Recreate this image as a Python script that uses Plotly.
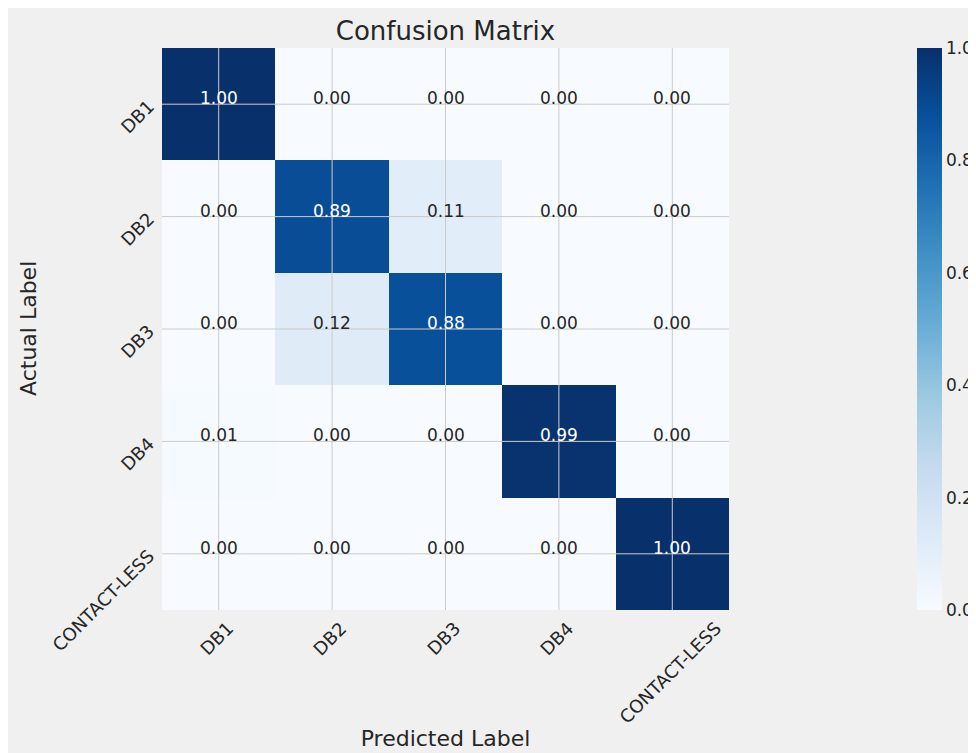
import plotly.graph_objects as go

# ---- data ----
labels = ["DB1", "DB2", "DB3", "DB4", "CONTACT-LESS"]
matrix = [
    [1.00, 0.00, 0.00, 0.00, 0.00],
    [0.00, 0.89, 0.11, 0.00, 0.00],
    [0.00, 0.12, 0.88, 0.00, 0.00],
    [0.01, 0.00, 0.00, 0.99, 0.00],
    [0.00, 0.00, 0.00, 0.00, 1.00],
]
cbar_ticks = [0.0, 0.2, 0.4, 0.6, 0.8, 1.0]

blues = ["#f7fbff", "#deebf7", "#c6dbef", "#9ecae1", "#6baed6",
         "#4292c6", "#2171b5", "#08519c", "#08306b"]
colorscale = [[i / (len(blues) - 1), c] for i, c in enumerate(blues)]

FONT = "DejaVu Sans"
TXT = "#262626"
GRID = "#cbcbcb"
BG = "#f0f0f0"

W, H = 968, 745
ML, MT, PW, PH = 154, 40, 567, 562
MR, MB = W - ML - PW, H - MT - PH

fig = go.Figure(go.Heatmap(
    x=labels, y=labels, z=matrix, zmin=0, zmax=1,
    colorscale=colorscale,
    colorbar=dict(
        x=(909 - ML) / PW, xanchor="left", xref="paper",
        y=0.5, yanchor="middle", len=1, lenmode="fraction",
        thickness=25, xpad=0, ypad=0, outlinewidth=0,
        tickvals=cbar_ticks, ticktext=[f"{t:.1f}" for t in cbar_ticks],
        ticks="outside", ticklen=1, tickcolor=BG,
        tickfont=dict(family=FONT, size=17, color=TXT),
    ),
    hoverinfo="skip",
))

shapes = []
# grid lines drawn over the cells (at category centres)
for lab in labels:
    shapes.append(dict(type="line", xref="x", yref="paper", x0=lab, x1=lab,
                       y0=0, y1=1, line=dict(color=GRID, width=1), layer="above"))
    shapes.append(dict(type="line", xref="paper", yref="y", x0=0, x1=1,
                       y0=lab, y1=lab, line=dict(color=GRID, width=1), layer="above"))

annotations = []
for i, row_lab in enumerate(labels):
    for j, col_lab in enumerate(labels):
        v = matrix[i][j]
        annotations.append(dict(
            x=col_lab, y=row_lab, xref="x", yref="y", text=f"{v:.2f}",
            showarrow=False, yshift=6,
            font=dict(family=FONT, size=17, color="white" if v > 0.5 else TXT),
        ))
# x tick labels, rotated and centred under each tick
for lab in labels:
    annotations.append(dict(
        x=lab, y=0, xref="x", yref="paper", text=lab, showarrow=False,
        xanchor="center", yanchor="top", yshift=-5, xshift=-2, textangle=-45,
        font=dict(family=FONT, size=18, color=TXT),
    ))
# y axis title
annotations.append(dict(
    text="Actual Label", xref="paper", yref="paper",
    x=(20 - ML) / PW, y=0.5, xanchor="center", yanchor="middle",
    textangle=-90, showarrow=False,
    font=dict(family=FONT, size=22, color=TXT),
))

fig.update_layout(
    width=W, height=H,
    margin=dict(l=ML, r=MR, t=MT, b=MB, autoexpand=False),
    paper_bgcolor=BG, plot_bgcolor=BG,
    font=dict(family=FONT, color=TXT),
    title=dict(text="Confusion Matrix", x=(ML + PW / 2) / W, xanchor="center",
               y=1 - 22.5 / H, yanchor="middle", yref="container",
               font=dict(family=FONT, size=26, color=TXT)),
    xaxis=dict(showgrid=False, zeroline=False, showticklabels=False,
               ticks="", showline=False,
               title=dict(text="Predicted Label", standoff=120,
                          font=dict(family=FONT, size=22, color=TXT))),
    yaxis=dict(showgrid=False, zeroline=False, autorange="reversed",
               tickangle=-45, ticks="", showline=False, ticklabelstandoff=12,
               tickfont=dict(family=FONT, size=18, color=TXT)),
    shapes=shapes,
    annotations=annotations,
)

fig.write_html("out.html",
               post_script="document.body.style.overflow='hidden';")
